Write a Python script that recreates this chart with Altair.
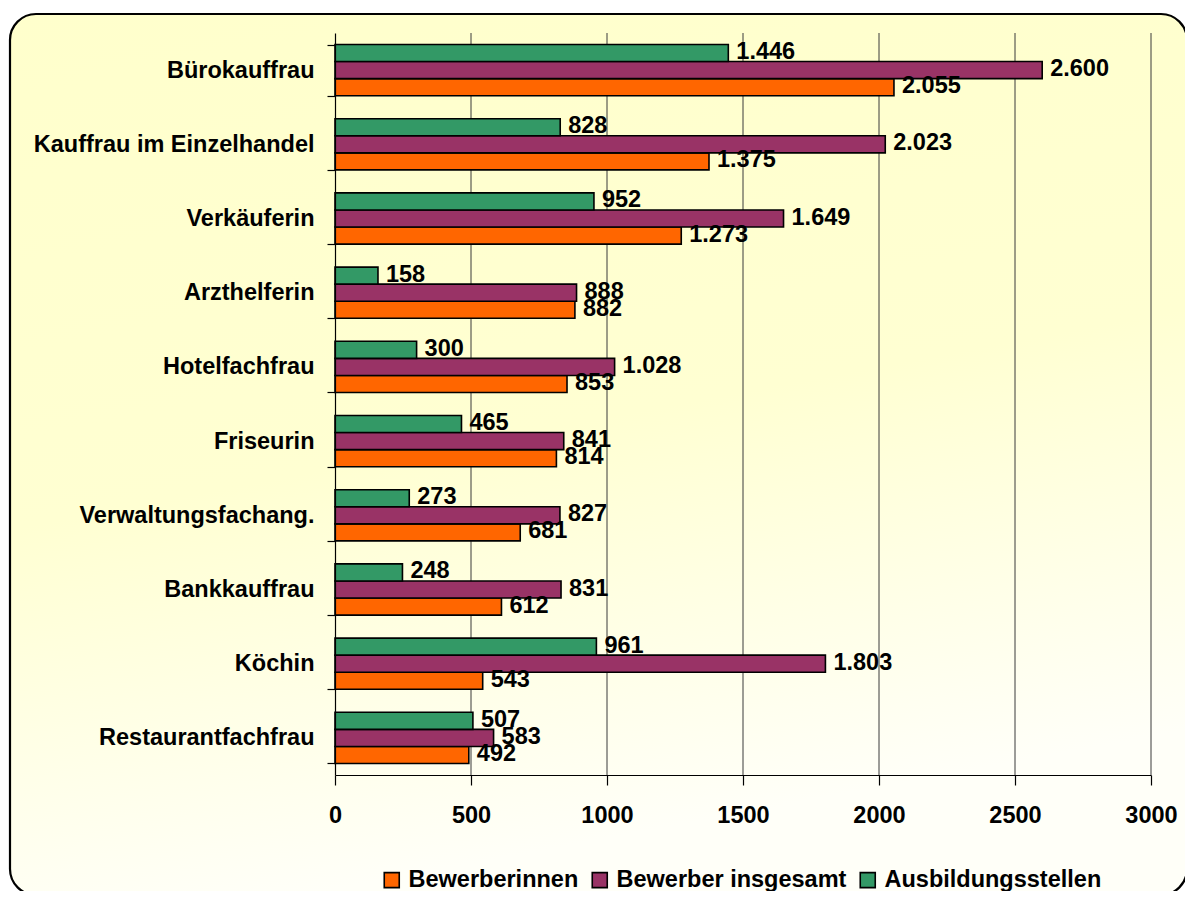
import altair as alt
import pandas as pd

categories = ["Bürokauffrau", "Kauffrau im Einzelhandel", "Verkäuferin", "Arzthelferin",
              "Hotelfachfrau", "Friseurin", "Verwaltungsfachang.", "Bankkauffrau",
              "Köchin", "Restaurantfachfrau"]
bewerberinnen = [2055, 1375, 1273, 882, 853, 814, 681, 612, 543, 492]
bewerber_insgesamt = [2600, 2023, 1649, 888, 1028, 841, 827, 831, 1803, 583]
ausbildungsstellen = [1446, 828, 952, 158, 300, 465, 273, 248, 961, 507]

series_names = ["Bewerberinnen", "Bewerber insgesamt", "Ausbildungsstellen"]
series_colors = ["#FF6600", "#993366", "#339966"]
x_ticks = [0, 500, 1000, 1500, 2000, 2500, 3000]
grid_values = [500, 1000, 1500, 2000, 2500, 3000]

FONT = "Liberation Sans"
FS = 23.5
W, H = 816, 742

rows = []
for name, vals in zip(series_names, [bewerberinnen, bewerber_insgesamt, ausbildungsstellen]):
    for c, v in zip(categories, vals):
        rows.append({"cat": c, "series": name, "value": v,
                     "label": f"{v:,}".replace(",", ".")})
df = pd.DataFrame(rows)

x_scale = alt.Scale(domain=[0, 3000], nice=False, zero=True)
x_axis = alt.Axis(values=x_ticks, labelFont=FONT, labelFontSize=FS,
                  labelFontWeight="bold", labelColor="black", labelPadding=18,
                  tickSize=10, tickColor="black", domainColor="black",
                  domainWidth=1.2, tickWidth=1.2, grid=False, zindex=1,
                  labelFlush=False, format="d")
y_enc = alt.Y("cat:N", sort=categories, title=None,
              scale=alt.Scale(paddingInner=0.31, paddingOuter=0.155),
              axis=alt.Axis(tickBand="extent", labelFont=FONT, labelFontSize=FS,
                            labelFontWeight="bold", labelColor="black", labelPadding=13,
                            labelLimit=0, tickSize=8, tickColor="black",
                            domainColor="black", domainWidth=1.2, tickWidth=1.2,
                            zindex=1, grid=False))
yoff = alt.YOffset("series:N", sort=["Ausbildungsstellen", "Bewerber insgesamt", "Bewerberinnen"],
                   scale=alt.Scale(paddingInner=0, paddingOuter=0))

bg = alt.Chart(pd.DataFrame({"a": [0]})).mark_rect(
    cornerRadius=26, stroke="black", strokeWidth=2.2,
    fill=alt.Gradient(gradient="linear", x1=0, x2=0.25, y1=0, y2=1,
                      stops=[alt.GradientStop(color="#FFFFCC", offset=0),
                             alt.GradientStop(color="#FFFFD2", offset=0.55),
                             alt.GradientStop(color="#FFFFF8", offset=1)])
).encode(x=alt.value(-325), x2=alt.value(852), y=alt.value(-19), y2=alt.value(862))

grid = alt.Chart(pd.DataFrame({"value": grid_values})).mark_rule(
    color="#3a3a3a", strokeWidth=1
).encode(x=alt.X("value:Q", scale=x_scale, title=None, axis=x_axis))

bars = alt.Chart(df).mark_bar(stroke="black", strokeWidth=1.6).encode(
    x=alt.X("value:Q", scale=x_scale, title=None, axis=x_axis),
    y=y_enc,
    yOffset=yoff,
    color=alt.Color("series:N",
                    scale=alt.Scale(domain=series_names, range=series_colors),
                    legend=alt.Legend(title=None, orient="none", direction="horizontal",
                                      legendX=45, legendY=835, symbolType="square",
                                      symbolSize=225, symbolStrokeColor="black",
                                      symbolStrokeWidth=1.6, symbolOpacity=1,
                                      labelFont=FONT, labelFontSize=FS,
                                      labelFontWeight="bold", labelColor="black",
                                      labelOffset=5, columnPadding=9, padding=0,
                                      labelLimit=0, zindex=1)),
)

text = alt.Chart(df).mark_text(
    align="left", baseline="middle", dx=8, dy=-1, font=FONT, fontSize=FS,
    fontWeight="bold", color="black"
).encode(
    x=alt.X("value:Q", scale=x_scale, title=None, axis=x_axis),
    y=alt.Y("cat:N", sort=categories),
    yOffset=yoff,
    text="label:N",
)

chart = alt.layer(bg, grid, bars, text).properties(
    width=W, height=H,
    autosize="none",
    padding={"left": 327, "top": 25, "right": 34, "bottom": 116},
).configure_view(stroke=None).configure(background="white")

chart.save("out.html", embed_options={"renderer": "svg", "actions": False})
